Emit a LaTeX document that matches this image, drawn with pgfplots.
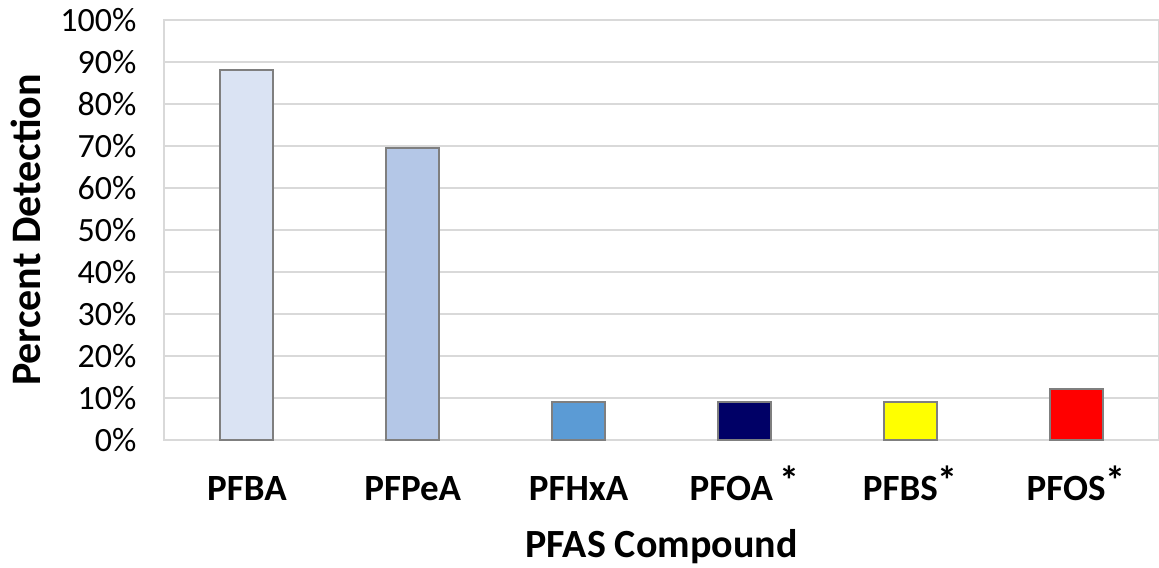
\documentclass[border=0pt]{standalone}
\usepackage{pgfplots}
\pgfplotsset{compat=1.18}
\usepackage{fontspec}
\setmainfont{Carlito}
\definecolor{cPFBA}{HTML}{DAE3F3}
\definecolor{cPFPeA}{HTML}{B4C7E7}
\definecolor{cPFHxA}{HTML}{5B9BD5}
\definecolor{cPFOA}{HTML}{000066}
\definecolor{cPFBS}{HTML}{FFFF00}
\definecolor{cPFOS}{HTML}{FF0000}
\definecolor{barline}{HTML}{7F7F7F}
\definecolor{gridc}{HTML}{D9D9D9}
\newcommand{\sigmark}{\raisebox{3pt}{\fontsize{20}{20}\selectfont *}}
\begin{document}
\begin{tikzpicture}
\path[use as bounding box] (-82pt,-63.5pt) rectangle (497.5pt,220pt);
\begin{axis}[
  scale only axis, width=497.5pt, height=210pt,
  xmin=-0.5, xmax=5.5, ymin=0, ymax=100,
  ybar, bar shift=0pt, bar width=0.32,
  xtick={0,1,2,3,4,5},
  xticklabels={PFBA,PFPeA,PFHxA,PFOA\,\sigmark,PFBS\sigmark,PFOS\sigmark},
  ytick={0,10,...,100},
  yticklabels={0\%,10\%,20\%,30\%,40\%,50\%,60\%,70\%,80\%,90\%,100\%},
  major tick length=0pt,
  ymajorgrids, major grid style={gridc, line width=1pt},
  axis line style={gridc, line width=1pt},
  yticklabel style={font=\fontsize{17}{19}\selectfont, anchor=east, xshift=-10.3pt},
  xticklabel style={font=\bfseries\fontsize{18.5}{20}\selectfont, anchor=base, yshift=-30pt},
  xlabel={PFAS Compound},
  xlabel style={font=\bfseries\fontsize{20}{22}\selectfont, at={(axis description cs:0.5,0)}, anchor=base, yshift=-58.5pt},
  ylabel={Percent Detection},
  ylabel style={font=\bfseries\fontsize{21}{23}\selectfont, at={(axis description cs:0,0.5)}, anchor=center, yshift=69pt},
  every axis plot/.append style={draw=barline, line width=1pt},
]
\addplot[fill=cPFBA] coordinates {(0,88)};
\addplot[fill=cPFPeA] coordinates {(1,69.5)};
\addplot[fill=cPFHxA] coordinates {(2,9)};
\addplot[fill=cPFOA] coordinates {(3,9)};
\addplot[fill=cPFBS] coordinates {(4,9)};
\addplot[fill=cPFOS] coordinates {(5,12.2)};
\end{axis}
\end{tikzpicture}
\end{document}
